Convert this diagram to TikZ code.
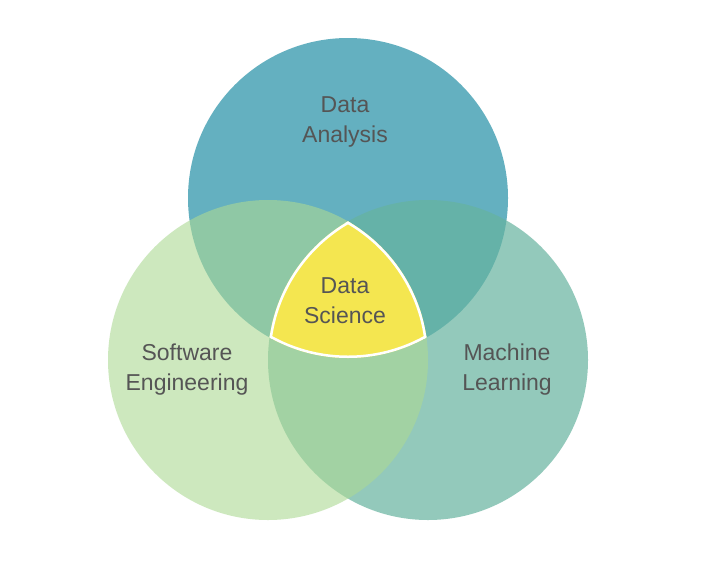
\documentclass[tikz,border=0pt]{standalone}
\usepackage{fontspec}
\setmainfont{Liberation Sans}
\definecolor{topc}{RGB}{100,176,192}
\definecolor{leftc}{RGB}{172,217,147}
\definecolor{rightc}{RGB}{102,179,159}
\definecolor{dsyellow}{RGB}{244,230,80}
\definecolor{labgrey}{RGB}{85,85,85}
\tikzset{setc/.style 2 args={fill=#1,fill opacity=#2,draw=none},
  lab/.style={text=labgrey,align=center,font=\fontsize{23}{30}\selectfont}}
\begin{document}
\begin{tikzpicture}[x=1pt,y=-1pt]
                \useasboundingbox (0,0) rectangle (708,570);
                \fill[white] (0,0) rectangle (708,570);
                \path[setc={topc}{1}] (348,198) circle (160);
                \path[setc={rightc}{0.7}] (428,360) circle (160);
                \path[setc={leftc}{0.6}] (268,360) circle (160);
                \begin{scope}
                \clip (268,360) circle (160);
                \clip (428,360) circle (160);
                \clip (348,198) circle (160);
                \fill[dsyellow] (0,0) rectangle (708,570);
                \draw[white,line width=5] (268,360) circle (160);
                \draw[white,line width=5] (428,360) circle (160);
                \draw[white,line width=5] (348,198) circle (160);
                \end{scope}
                \node[lab] (da) at (345,122) {Data\\Analysis};
                \node[lab] (ds) at (345,301) {Data\\Science};
                \node[lab] (se) at (187,370) {Software\\Engineering};
                \node[lab] (ml) at (507,370) {Machine\\Learning};
                \end{tikzpicture}
\end{document}
